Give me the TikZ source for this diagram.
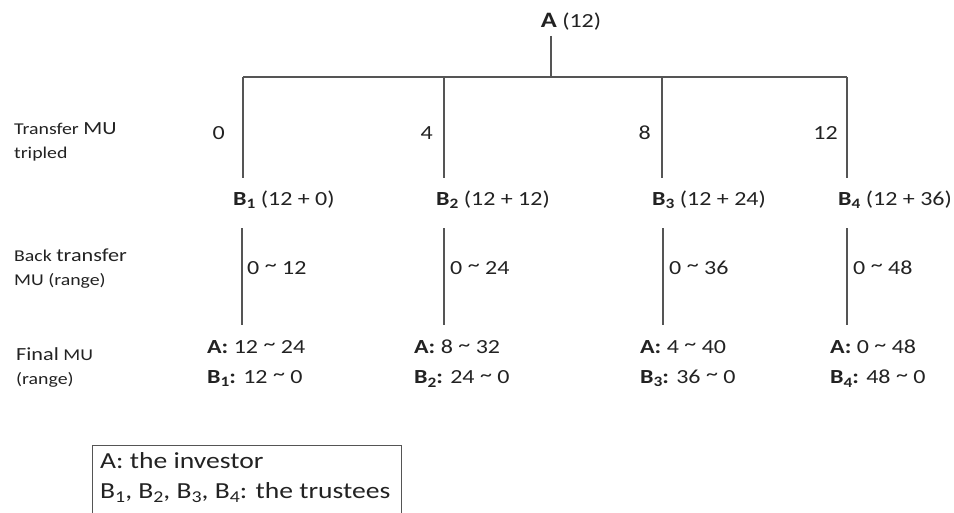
\documentclass[tikz,border=0pt]{standalone}
\usepackage{fontspec}
\setmainfont{Carlito}[FakeStretch=1.2]
\definecolor{ink}{HTML}{222222}
\definecolor{rule}{HTML}{555555}
\newcommand\lowsub[1]{\raisebox{-0.38ex}{\scalebox{0.72}{#1}}}
\newcommand\tl{\raisebox{0.3ex}{\textasciitilde}}
\begin{document}
\begin{tikzpicture}[x=1pt,y=-1pt,
  txt/.style={inner sep=0pt,text=ink,font=\fontsize{20}{24}\selectfont},
  side/.style={inner sep=0pt,text=ink,align=left,font=\fontsize{16.5}{24}\selectfont},
  fin/.style={inner sep=0pt,text=ink,align=left,anchor=north west,font=\fontsize{20}{30}\selectfont},
  branch/.style={draw=rule,line width=1.1pt},
  legend/.style={draw=rule,line width=1pt}]
\useasboundingbox (0,0) rectangle (954,512);
\clip (0,0) rectangle (954,512);
% root
\node[txt] (A) at (571,22) {{\fontsize{22}{24}\selectfont\textbf{A}} (12)};
\coordinate (j0) at (551,77);
\coordinate (t1) at (243,77);
\coordinate (t2) at (444,77);
\coordinate (t3) at (662,77);
\coordinate (t4) at (847,77);
\draw[branch] (A.south -| j0) ++(0,5) -- (j0);
\draw[branch] (t1) -- (t4);
% transfer amounts
\node[txt,anchor=east] (n1) at (225,133) {0};
\node[txt,anchor=east] (n2) at (433,133) {4};
\node[txt,anchor=east] (n3) at (651,133) {8};
\node[txt,anchor=east] (n4) at (838,133) {12};
% trustees
\node[txt,anchor=base west] (B1) at (233,205) {\textbf{B\lowsub{1}} (12 + 0)};
\node[txt,anchor=base west] (B2) at (436,205) {\textbf{B\lowsub{2}} (12 + 12)};
\node[txt,anchor=base west] (B3) at (652,205) {\textbf{B\lowsub{3}} (12 + 24)};
\node[txt,anchor=base west] (B4) at (838,205) {\textbf{B\lowsub{4}} (12 + 36)};
\coordinate (d1) at (243,178);
\coordinate (d2) at (444,178);
\coordinate (d3) at (662,178);
\coordinate (d4) at (847,178);
\foreach \i in {1,2,3,4} \draw[branch] (t\i) -- (d\i);
% back transfer
\coordinate (u1) at (242,228); \coordinate (v1) at (242,325);
\coordinate (u2) at (444,228); \coordinate (v2) at (444,325);
\coordinate (u3) at (663,228); \coordinate (v3) at (663,325);
\coordinate (u4) at (847,228); \coordinate (v4) at (847,325);
\foreach \i in {1,2,3,4} \draw[branch] (u\i) -- (v\i);
\node[txt,anchor=west] (r1) at (247,268) {0 \tl\ 12};
\node[txt,anchor=west] (r2) at (450,268) {0 \tl\ 24};
\node[txt,anchor=west] (r3) at (669,268) {0 \tl\ 36};
\node[txt,anchor=west] (r4) at (853,268) {0 \tl\ 48};
% final
\node[fin] (F1) at (207,340) {\textbf{A:} 12 \tl\ 24\\\textbf{B\lowsub{1}:} 12 \tl\ 0};
\node[fin] (F2) at (414,340) {\textbf{A:} 8 \tl\ 32\\\textbf{B\lowsub{2}:} 24 \tl\ 0};
\node[fin] (F3) at (640,340) {\textbf{A:} 4 \tl\ 40\\\textbf{B\lowsub{3}:} 36 \tl\ 0};
\node[fin] (F4) at (830,340) {\textbf{A:} 0 \tl\ 48\\\textbf{B\lowsub{4}:} 48 \tl\ 0};
% side labels
\node[side,anchor=west] (L1) at (14,142) {Transfer {\fontsize{18.5}{24}\selectfont MU}\\tripled};
\node[side,anchor=west] (L2) at (14,269) {Back {\fontsize{18.5}{24}\selectfont transfer}\\MU (range)};
\node[side,anchor=west] (L3) at (16,367) {{\fontsize{18.5}{24}\selectfont Final} MU\\(range)};
% legend
\draw[legend] (92,530) |- (401,445) -- (401,530);
\node[inner sep=0pt,text=ink,align=left,anchor=north west,font=\fontsize{23}{30}\selectfont] (K) at (100,452)
  {A: the investor\\B\lowsub{1}, B\lowsub{2}, B\lowsub{3}, B\lowsub{4}: the trustees};
\end{tikzpicture}
\end{document}
